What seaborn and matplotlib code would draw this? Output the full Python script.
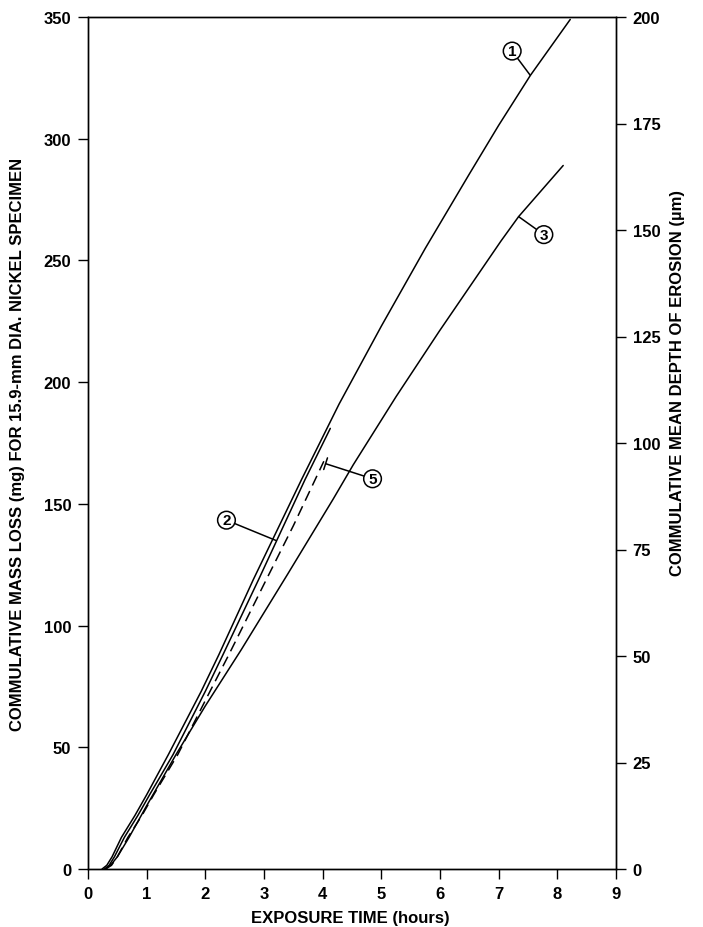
import matplotlib
matplotlib.use("Agg")
import matplotlib.pyplot as plt
import seaborn as sns

sns.set_style("ticks")
plt.rcParams['font.family'] = ['Liberation Sans', 'DejaVu Sans']
plt.rcParams['font.weight'] = 'bold'
for k in ['text.color', 'axes.labelcolor', 'xtick.color', 'ytick.color', 'axes.edgecolor']:
    plt.rcParams[k] = 'black'

# 曲线数据: 时间(h) / 质量损失(mg)
c1_x = [0.24, 0.32, 0.41, 0.57, 0.8, 1.0, 1.37, 1.93, 2.23, 2.82, 3.64, 4.28, 5.0, 5.75, 6.5, 7.0, 7.54, 8.22]
c1_y = [0, 1.5, 5, 13, 22, 30.5, 47, 73, 88, 119, 160, 191, 223, 255, 285.5, 305.5, 326, 349]

c2_x = [0.28, 0.36, 0.45, 0.62, 0.85, 1.05, 1.45, 2.0, 2.3, 2.91, 3.70, 4.13]
c2_y = [0, 1.5, 5, 13, 22, 30.5, 47, 73, 88, 119, 160, 181]

c3_x = [0.3, 0.4, 0.5, 0.7, 1.0, 1.5, 2.0, 2.61, 3.4, 4.18, 4.52, 5.25, 5.99, 7.04, 7.34, 8.1]
c3_y = [0, 2, 5, 13, 26, 47, 67, 90, 121, 152, 166, 194, 221, 258, 268, 289]

c5_x = [0.3, 0.4, 0.5, 0.68, 0.92, 1.12, 1.53, 2.08, 2.4, 3.0, 3.5, 4.02]
c5_y = [0, 1.5, 5, 13, 22, 30.5, 47, 73, 88, 117, 141, 167.5]

# 编号标注: (编号, 文字位置, 指向点)
labels = ['1', '2', '3', '5']
label_txt = [(7.23, 336), (2.36, 143.3), (7.77, 260.6), (4.85, 160.3)]
label_pt = [(7.54, 326), (3.2, 135), (7.34, 268), (4.05, 166.5)]

x_ticks = list(range(0, 10))
left_ticks = [0, 50, 100, 150, 200, 250, 300, 350]
right_ticks = [0, 25, 50, 75, 100, 125, 150, 175, 200]

fig = plt.figure(figsize=(7.03, 9.28), dpi=100)
ax = fig.add_axes([88 / 703, 1 - 870 / 928, 528 / 703, 852 / 928])

for xs, ys in [(c1_x, c1_y), (c2_x, c2_y), (c3_x, c3_y)]:
    sns.lineplot(x=xs, y=ys, ax=ax, color='black', lw=1.1, sort=False, estimator=None)
sns.lineplot(x=c5_x, y=c5_y, ax=ax, color='black', lw=1.1, sort=False, estimator=None,
             linestyle=(0, (7, 4)))

for lab, txt, pt in zip(labels, label_txt, label_pt):
    style = '-[,widthB=0.4,lengthB=0' if lab == '5' else '-'
    ax.annotate(lab, xy=pt, xytext=txt, ha='center', va='center', fontsize=11,
                fontweight='bold',
                bbox=dict(boxstyle='circle,pad=0.12', fc='white', ec='black', lw=1.1),
                arrowprops=dict(arrowstyle=style, lw=1.1, color='black',
                                shrinkA=0, shrinkB=0))

ax.set_xlim(0, 9)
ax.set_ylim(0, 350)
ax.set_xticks(x_ticks)
ax.set_yticks(left_ticks)
ax.tick_params(axis='both', direction='out', length=7, width=1, labelsize=12, pad=5)

ax2 = ax.twinx()
ax2.set_ylim(0, 200)
ax2.set_yticks(right_ticks)
ax2.tick_params(axis='y', direction='out', length=7, width=1, labelsize=12, pad=5)

for a in (ax, ax2):
    for s in a.spines.values():
        s.set_visible(True)
        s.set_linewidth(1.0)
        s.set_color('black')

ax.set_xlabel('EXPOSURE TIME (hours)', fontsize=12, fontweight='bold')
ax.xaxis.set_label_coords(0.496, -0.048)
ax.set_ylabel('COMMULATIVE MASS LOSS (mg) FOR 15.9-mm DIA. NICKEL SPECIMEN',
              fontsize=12, fontweight='bold')
ax.yaxis.set_label_coords(-0.119, 0.5)
ax2.set_ylabel('COMMULATIVE MEAN DEPTH OF EROSION (µm)', fontsize=12, fontweight='bold')
ax2.yaxis.set_label_coords(1.102, 0.572)

fig.savefig('out.png', dpi=100)
